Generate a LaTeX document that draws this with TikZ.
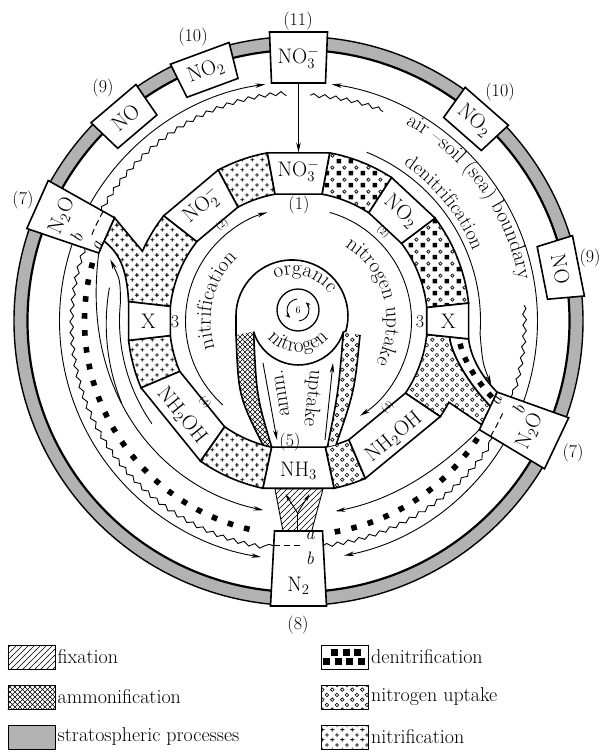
\RequirePackage{fix-cm}
\documentclass[tikz,border=0pt]{standalone}
\usepackage{fontspec}
\usetikzlibrary{arrows.meta,patterns,decorations.pathmorphing,decorations.text,decorations.markings,calc}

\pgfdeclarepatternformonly{plusgrid}{\pgfqpoint{0pt}{0pt}}{\pgfqpoint{10pt}{10pt}}{\pgfqpoint{10pt}{10pt}}{%
  \pgfsetlinewidth{0.9pt}%
  \pgfpathmoveto{\pgfqpoint{0.3pt}{2.5pt}}\pgfpathlineto{\pgfqpoint{4.7pt}{2.5pt}}%
  \pgfpathmoveto{\pgfqpoint{2.5pt}{0.3pt}}\pgfpathlineto{\pgfqpoint{2.5pt}{4.7pt}}%
  \pgfpathmoveto{\pgfqpoint{5.3pt}{7.5pt}}\pgfpathlineto{\pgfqpoint{9.7pt}{7.5pt}}%
  \pgfpathmoveto{\pgfqpoint{7.5pt}{5.3pt}}\pgfpathlineto{\pgfqpoint{7.5pt}{9.7pt}}%
  \pgfusepath{stroke}}
\pgfdeclarepatternformonly{circgrid}{\pgfqpoint{0pt}{0pt}}{\pgfqpoint{10pt}{10pt}}{\pgfqpoint{10pt}{10pt}}{%
  \pgfsetlinewidth{0.7pt}%
  \pgfpathcircle{\pgfqpoint{2.5pt}{2.5pt}}{1.9pt}%
  \pgfpathcircle{\pgfqpoint{7.5pt}{7.5pt}}{1.9pt}%
  \pgfusepath{stroke}}
\pgfdeclarepatternformonly{mixgrid}{\pgfqpoint{0pt}{0pt}}{\pgfqpoint{12pt}{12pt}}{\pgfqpoint{12pt}{12pt}}{%
  \pgfpathrectangle{\pgfqpoint{0.8pt}{0.8pt}}{\pgfqpoint{4.6pt}{4.6pt}}\pgfusepath{fill}%
  \pgfsetlinewidth{0.7pt}%
  \pgfpathcircle{\pgfqpoint{9pt}{9pt}}{1.8pt}\pgfusepath{stroke}}
\pgfdeclarepatternformonly{xhatch}{\pgfqpoint{-0.5pt}{-0.5pt}}{\pgfqpoint{5.5pt}{5.5pt}}{\pgfqpoint{5pt}{5pt}}{%
  \pgfsetlinewidth{0.6pt}%
  \pgfpathmoveto{\pgfqpoint{0pt}{0pt}}\pgfpathlineto{\pgfqpoint{5pt}{5pt}}%
  \pgfpathmoveto{\pgfqpoint{0pt}{5pt}}\pgfpathlineto{\pgfqpoint{5pt}{0pt}}%
  \pgfusepath{stroke}}
\pgfdeclarepatternformonly{fixlines}{\pgfqpoint{-0.5pt}{-0.5pt}}{\pgfqpoint{6.5pt}{6.5pt}}{\pgfqpoint{6pt}{6pt}}{%
  \pgfsetlinewidth{0.6pt}%
  \pgfpathmoveto{\pgfqpoint{-0.5pt}{-0.5pt}}\pgfpathlineto{\pgfqpoint{6.5pt}{6.5pt}}%
  \pgfusepath{stroke}}

\newcommand\lblfont{\fontsize{21}{25}\selectfont}
\newcommand\arcfont{\fontsize{20}{24}\selectfont}
\newcommand\numfont{\fontsize{18}{22}\selectfont}
\newcommand\smallfont{\fontsize{10}{12}\selectfont}
\newcommand\legfont{\fontsize{20}{24}\selectfont}
\newcommand\ringsector[5]{\path[#1] (#2:#4) arc[start angle=#2,end angle=#3,radius=#4] -- (#3:#5) arc[start angle=#3,end angle=#2,radius=#5] -- cycle;}
\newcommand\trapbox[5]{\path[boxst,#1] (#2:#4) -- (#3:#4) -- (#3:#5) -- (#2:#5) -- cycle;}

\begin{document}
\begin{tikzpicture}[x=1pt,y=1pt,
  ringline/.style={line width=1.6pt},
  boxst/.style={draw,line width=1.6pt,fill=white,line join=miter},
  lane/.style={line width=0.9pt},
  arr/.style={line width=0.9pt,-{Stealth[length=10pt,width=4.5pt]}},
  wavy/.style={line width=0.9pt,decorate,decoration={snake,amplitude=1.8pt,segment length=11pt}},
  lbl/.style={font=\lblfont,inner sep=0pt},
  num/.style={font=\numfont,inner sep=0pt},
  sml/.style={font=\smallfont,inner sep=0pt},
  pat/.style={preaction={fill=white},pattern=#1,draw,line width=1.6pt},
  sqrow/.style={decorate,decoration={markings,mark=between positions 0.02 and 0.98 step 17pt with {\fill (-2.8pt,-2.8pt) rectangle (2.8pt,2.8pt);}}},
  dashln/.style={line width=1pt,dash pattern=on 6pt off 4pt},
  legbox/.style={draw,line width=0.8pt},
  legtxt/.style={anchor=west,font=\legfont,inner sep=0pt},
]
\useasboundingbox (-298.5,-431) rectangle (302.5,321);

% ---------- outer stratospheric ring
\fill[black!30,even odd rule] (0,0) circle[radius=284.5] (0,0) circle[radius=271];
\draw[line width=1.4pt] (0,0) circle[radius=284.5];
\draw[line width=2.2pt] (0,0) circle[radius=271];

% ---------- outer lanes
\draw[arr] (150.7:239) arc[start angle=150.7,end angle=98,radius=239];
\draw[arr] (-19.7:239) arc[start angle=-19.7,end angle=82,radius=239];
\draw[arr] (161.2:239) arc[start angle=161.2,end angle=261,radius=239];
\draw[arr] (-31:239) arc[start angle=-31,end angle=-79,radius=239];

% ---------- air-soil boundary (wavy)
\draw[wavy] (150.7:226) arc[start angle=150.7,end angle=93,radius=226];
\draw[wavy] (87:226) arc[start angle=87,end angle=68,radius=226];
\draw[wavy] (4:226) arc[start angle=4,end angle=-19.7,radius=226];
\draw[wavy] (161.2:226) arc[start angle=161.2,end angle=263.7,radius=226];
\draw[wavy] (-83.7:226) arc[start angle=-83.7,end angle=-31,radius=226];

% ---------- denitrification squares rows
\path[sqrow] (163:214) arc[start angle=163,end angle=262,radius=214];
\path[sqrow] (-33:214) arc[start angle=-33,end angle=-82,radius=214];

% ---------- inner lanes
\draw[arr] plot[domain=0:98.3,samples=80,smooth] ({161.2+\x}:{192+19*exp(-\x/25)});
\draw[lane] plot[domain=0:35,samples=30,smooth] ({170+\x}:{192+3*(\x/35)^2});
\draw[arr] (215:179) arc[start angle=215,end angle=174,radius=179] .. controls (167:183) .. (161.9:198);
\draw[arr] plot[domain=0:48,samples=60,smooth] ({-31-\x}:{192+19*exp(-\x/20)});
\draw[arr] (68:182) arc[start angle=68,end angle=-4,radius=182] .. controls (-13:189) .. (-18.3:203);

% ---------- inner ring patterned sectors
\ringsector{pat=plusgrid}{100.5}{118}{129}{171}
\path[pat=plusgrid] (142:129) arc[start angle=142,end angle=173.5,radius=129] -- (173.5:171) .. controls (-172,55) and (-180,68) .. (-194.4,79.9) -- (150.7:211) .. controls (153:190) .. (155.9:171) arc[start angle=155.9,end angle=142,radius=171] -- cycle;
\ringsector{pat=plusgrid}{186.5}{203}{129}{171}
\ringsector{pat=plusgrid}{235}{258}{129}{171}
\ringsector{pat=circgrid}{282}{293}{129}{171}
\path[pat=circgrid] (-34:129) arc[start angle=-34,end angle=-6,radius=129] -- (-6:152) .. controls (-12:156) and (-20:180) .. (-24:210.5) -- (-29.5:210.5) .. controls (-29:190) .. (-28.4:171) arc[start angle=-28.4,end angle=-34,radius=171] -- cycle;
\ringsector{pat=mixgrid}{6}{37}{129}{171}
\ringsector{pat=mixgrid}{57}{79.5}{129}{171}
% squares channel X -> N2O
\path[draw,line width=1.6pt,fill=white] (-6:171) .. controls (-12:176) and (-17:192) .. (-19.7:211) -- (-24:210.5) .. controls (-20:180) and (-12:156) .. (-6:152) -- cycle;
\path[decorate,decoration={markings,mark=between positions 0.12 and 0.92 step 0.2 with {\fill (-2.7pt,-2.7pt) rectangle (2.7pt,2.7pt);}}] (160.65,-16.9) .. controls (162.4,-34.5) and (176.35,-58.85) .. (195.7,-78.45);

% ---------- fixation region
\path[draw,line width=0.9pt,pattern=fixlines] (-23.5,-168) -- (24.5,-168) -- (13.2,-210) -- (-15.5,-210) -- cycle;
\coordinate (ystem) at (-1,-209);
\coordinate (yfork) at (-1,-192);
\draw[lane] (ystem) -- (yfork);
\draw[line width=0.9pt,-{Stealth[length=8pt,width=4pt]}] (yfork) -- (-13,-173);
\draw[line width=0.9pt,-{Stealth[length=8pt,width=4pt]}] (yfork) -- (11,-173);

% ---------- boxes
\trapbox{}{79.5}{100.5}{129}{171}
\trapbox{}{118}{142}{129}{171}
\trapbox{}{173.5}{186.5}{129}{171}
\trapbox{}{203}{235}{129}{171}
\trapbox{}{258}{282}{129}{171}
\trapbox{}{293}{326}{129}{171}
\trapbox{}{-6}{6}{129}{171}
\trapbox{}{37}{57}{129}{171}
\trapbox{}{104}{116.5}{250}{287}
\trapbox{}{124.5}{136.3}{250}{287}
\trapbox{}{150.7}{161.2}{211}{287}
\trapbox{}{43}{54.5}{250}{287}
\trapbox{}{5}{17.3}{250}{287}
\trapbox{}{-31}{-19.7}{211}{287}
\path[boxst] (-27,238) -- (27,238) -- (29,289) -- (-29,289) -- cycle;
\path[boxst] (-24,-210) -- (24,-210) -- (28,-285) -- (-28,-285) -- cycle;

% ---------- a/b interfaces
\draw[dashln] (150.7:224) arc[start angle=150.7,end angle=158,radius=224];
\node[num,rotate=69] (aL) at (159.6:214) {\itshape a};
\node[num,rotate=69] (bL) at (159.4:237) {\itshape b};
\draw[dashln] (-31:224) arc[start angle=-31,end angle=-24,radius=224];
\node[num,rotate=68.3] (aR) at (-21.8:214) {\itshape a};
\node[num,rotate=68.3] (bR) at (-21.8:237) {\itshape b};
\draw[dashln] (-24.6,-224) -- (4,-224);
\node[num] (aN) at (11.5,-214.5) {\itshape a};
\node[num] (bN) at (11.5,-237) {\itshape b};

% ---------- box labels
\node[lbl] (no3top) at (0,263) {NO$_3^-$};
\node[lbl,rotate=20.3] (no2ul) at (110.3:267) {NO$_2$};
\node[lbl,rotate=40.4] (noul) at (130.4:267) {NO};
\node[lbl,rotate=66] (n2oleft) at (156:259) {N$_2$O};
\node[lbl,rotate=-41.2] (no2ur) at (48.8:267) {NO$_2$};
\node[lbl,rotate=-79] (nour) at (11.2:267) {NO};
\node[lbl,rotate=64.6] (n2oright) at (-25.4:256) {N$_2$O};
\node[lbl] (n2) at (0,-265) {N$_2$};
\node[lbl] (no3in) at (90:150) {NO$_3^-$};
\node[lbl,rotate=40] (no2in) at (130:150) {NO$_2^-$};
\node[lbl] (xl) at (180:150) {X};
\node[lbl,rotate=-51] (nh2ohl) at (219:150) {NH$_2$OH};
\node[lbl] (nh3) at (-90:150) {NH$_3$};
\node[lbl,rotate=39.5] (nh2ohr) at (-50.5:150) {NH$_2$OH};
\node[lbl] (xr) at (0:150) {X};
\node[lbl,rotate=-43] (no2inr) at (47:150) {NO$_2$};

% ---------- numbers
\node[num] (l11) at (-0.5,300) {(11)};
\node[num] (l10a) at (-105.5,284) {(10)};
\node[num] (l9a) at (-195.5,233) {(9)};
\node[num] (l7a) at (-275.5,121) {(7)};
\node[num] (l10b) at (201.5,229) {(10)};
\node[num] (l9b) at (291.5,63) {(9)};
\node[num] (l7b) at (274.5,-132) {(7)};
\node[num] (l8) at (-0.5,-304) {(8)};
\node[num] (l1) at (0.5,116) {(1)};
\node[sml,rotate=38.5] (l2a) at (128.5:122.7) {(2)};
\node[sml,rotate=-43.5] (l2b) at (46.5:122.7) {(2)};
\node[sml,rotate=-49] (l4a) at (221:124) {(4)};
\node[sml,rotate=46] (l4b) at (-44:124) {(4)};
\node[num] (l3a) at (-123.5,-1) {3};
\node[num] (l3b) at (121.5,-1) {3};
\node[num] (l5) at (-8.5,-121) {(5)};

% ---------- central arrows
\coordinate (from11) at (0,238);
\coordinate (to1) at (0,168.5);
\draw[arr] (from11) -- (to1);
\draw[arr] (228:113) arc[start angle=228,end angle=106,radius=113];
\draw[arr] (74:113) arc[start angle=74,end angle=-57,radius=113];

% ---------- organic nitrogen
\path[pattern=xhatch] (-62.5,-14) .. controls (-60,-75) .. (-35.6,-124) -- (-26.8,-126.2) .. controls (-42,-75) .. (-44.9,-10.7) -- cycle;
\path[preaction={fill=white},pattern=circgrid] (44.9,-10.7) .. controls (40,-70) .. (29,-125.7) -- (37.7,-123.4) .. controls (56,-70) .. (61.5,-14) -- cycle;
\draw[ringline] (44.9,-10.7) -- (47.3,-10.4) arc[start angle=-16,end angle=180,radius=56] -- (-62.5,-14) .. controls (-60,-75) .. (-35.6,-124);
\draw[ringline] (-44.9,-10.7) arc[start angle=197,end angle=343,radius=47];
\draw[ringline] (-44.9,-10.7) .. controls (-42,-75) .. (-26.8,-126.2);
\draw[ringline] (44.9,-10.7) .. controls (40,-70) .. (29,-125.7);
\draw[ringline] (61.5,-14) .. controls (56,-70) .. (37.7,-123.4);
\draw[line width=1.3pt] (-0.5,11) circle[radius=21];
\draw[line width=0.9pt,-{Stealth[length=5pt,width=4pt]}] ($(-0.5,11)+(95:11)$) arc[start angle=95,end angle=225,radius=11];
\draw[line width=0.9pt,-{Stealth[length=5pt,width=4pt]}] ($(-0.5,11)+(275:11)$) arc[start angle=275,end angle=405,radius=11];
\node[sml] (six) at (-0.5,11) {6};
\coordinate (ammtop) at (-35.5,-42);
\coordinate (ammbot) at (-21.5,-119);
\draw[arr] (ammtop) -- (ammbot);
\coordinate (uptbot) at (26.5,-119);
\coordinate (upttop) at (34.5,-42);
\draw[arr] (uptbot) -- (upttop);
\node[lbl,rotate=99] (amm) at (-17,-72) {amm.};
\node[lbl,rotate=-96] (upt) at (14,-77) {uptake};

% ---------- curved texts
\path[decorate,decoration={text along path,text align=center,text={|\lblfont|nitrification}}] (207:88) arc[start angle=207,end angle=125,radius=88];
\path[decorate,decoration={text along path,text align=center,text={|\lblfont|nitrogen uptake}}] (70:88) arc[start angle=70,end angle=-40,radius=88];
\path[decorate,decoration={text along path,text align=center,text={|\lblfont|organic}}] ($(-4.5,3)+(140:43)$) arc[start angle=140,end angle=10,radius=43];
\path[decorate,decoration={text along path,text align=center,text={|\lblfont|nitrogen}}] ($(-0.5,9)+(195:40)$) arc[start angle=195,end angle=345,radius=40];
\path[decorate,decoration={text along path,text align=center,text={|\lblfont|air {\textendash}soil (sea) boundary}}] (76:224) arc[start angle=76,end angle=-4,radius=224];
\path[decorate,decoration={text along path,text align=center,text={|\arcfont|denitrification}}] (64:188) arc[start angle=64,end angle=14,radius=188];

% ---------- legend
\path[legbox,pattern=fixlines] (-290.5,-348) rectangle (-243.5,-324);
\node[legtxt] (lfix) at (-241,-336) {fixation};
\path[legbox,pattern=xhatch] (-290.5,-388) rectangle (-243.5,-364);
\node[legtxt] (lamm) at (-241,-376) {ammonification};
\path[legbox,fill=black!30] (-290.5,-428) rectangle (-243.5,-404);
\node[legtxt] (lstr) at (-241,-416) {stratospheric processes};
\path[legbox] (22.5,-348) rectangle (69.5,-324);
\foreach \xx in {36,47.5,59} \fill (\xx-3.5,-335) rectangle (\xx+3.5,-328);
\foreach \xx in {28,39.5,51,62.5} \fill (\xx-3.5,-344) rectangle (\xx+3.5,-337);
\node[legtxt] (lden) at (72.5,-336) {denitrification};
\path[legbox,pattern=circgrid] (22.5,-388) rectangle (69.5,-364);
\node[legtxt] (lupt) at (72.5,-376) {nitrogen uptake};
\path[legbox,pattern=plusgrid] (22.5,-428) rectangle (69.5,-404);
\node[legtxt] (lnit) at (72.5,-416) {nitrification};
\end{tikzpicture}
\end{document}
